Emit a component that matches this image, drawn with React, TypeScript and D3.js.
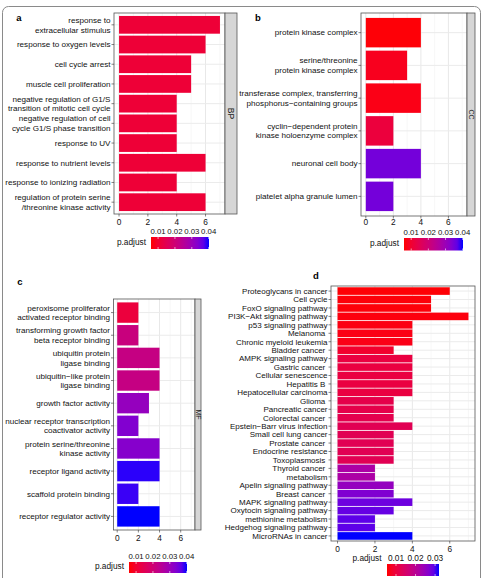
import * as d3 from 'd3';
import { useEffect, useRef } from 'react';

// GO biological process
const bpTerms = [
  'response to\nextracellular stimulus',
  'response to oxygen levels',
  'cell cycle arrest',
  'muscle cell proliferation',
  'negative regulation of G1/S\ntransition of mitotic cell cycle',
  'negative regulation of cell\ncycle G1/S phase transition',
  'response to UV',
  'response to nutrient levels',
  'response to ionizing radiation',
  'regulation of protein serine\n/threonine kinase activity',
];
const bpCounts = [7, 6, 5, 5, 4, 4, 4, 6, 4, 6];
const bpPadj = [0.011, 0.011, 0.011, 0.011, 0.011, 0.011, 0.011, 0.011, 0.011, 0.011];

// GO cellular component
const ccTerms = [
  'protein kinase complex',
  'serine/threonine\nprotein kinase complex',
  'transferase complex, transferring\nphosphorus\u2212containing groups',
  'cyclin\u2212dependent protein\nkinase holoenzyme complex',
  'neuronal cell body',
  'platelet alpha granule lumen',
];
const ccCounts = [4, 3, 4, 2, 4, 2];
const ccPadj = [0.0062, 0.0079, 0.0072, 0.0117, 0.035, 0.035];

// GO molecular function
const mfTerms = [
  'peroxisome proliferator\nactivated receptor binding',
  'transforming growth factor\nbeta receptor binding',
  'ubiquitin protein\nligase binding',
  'ubiquitin\u2212like protein\nligase binding',
  'growth factor activity',
  'nuclear receptor transcription\ncoactivator activity',
  'protein serine/threonine\nkinase activity',
  'receptor ligand activity',
  'scaffold protein binding',
  'receptor regulator activity',
];
const mfCounts = [2, 2, 4, 4, 3, 2, 4, 4, 2, 4];
const mfPadj = [0.0117, 0.0213, 0.022, 0.022, 0.031, 0.0335, 0.033, 0.0395, 0.039, 0.0402];

// KEGG pathways
const keggTerms = [
  'Proteoglycans in cancer',
  'Cell cycle',
  'FoxO signaling pathway',
  'PI3K\u2212Akt signaling pathway',
  'p53 signaling pathway',
  'Melanoma ',
  'Chronic myeloid leukemia',
  'Bladder cancer ',
  'AMPK signaling pathway',
  'Gastric cancer ',
  'Cellular senescence',
  'Hepatitis B ',
  'Hepatocellular carcinoma',
  'Glioma ',
  'Pancreatic cancer',
  'Colorectal cancer ',
  'Epstein\u2212Barr virus infection',
  'Small cell lung cancer',
  'Prostate cancer ',
  'Endocrine resistance',
  'Toxoplasmosis ',
  'Thyroid cancer ',
  'metabolism',
  'Apelin signaling pathway',
  'Breast cancer ',
  'MAPK signaling pathway',
  'Oxytocin signaling pathway',
  'methionine metabolism',
  'Hedgehog signaling pathway',
  'MicroRNAs in cancer',
];
const keggCounts = [6, 5, 5, 7, 4, 4, 4, 3, 4, 4, 4, 4, 4, 3, 3, 3, 4, 3, 3, 3, 3, 2, 2, 3, 3, 4, 3, 2, 2, 4];
const keggPadj = [
  0.0056, 0.0058, 0.0058, 0.006, 0.0062, 0.0064, 0.0065, 0.0085, 0.0105, 0.0105,
  0.0105, 0.0105, 0.0105, 0.0115, 0.0115, 0.0118, 0.0125, 0.0125, 0.0125, 0.0125,
  0.0125, 0.022, 0.022, 0.025, 0.027, 0.0285, 0.029, 0.0295, 0.0295, 0.032,
];

const goTicks = [0.01, 0.02, 0.03, 0.04];
const keggTicks = [0.01, 0.02, 0.03];
const xTicks = [0, 2, 4, 6];
const xMinor = [1, 3, 5, 7];

const FONT = '"Liberation Sans", Arial, Helvetica, sans-serif';

type Panel = {
  tag: string;
  strip?: string;
  terms: string[];
  counts: number[];
  padj: number[];
  x0: number; x1: number; y0: number; y1: number;
  stripW: number;
  fontSize: number;
  lineH: number;
  tickGap: number;
  tagPos: [number, number];
  legend: { mode: 'side' | 'top'; x: number; y: number; w: number; h: number };
};

export default function App() {
  const svgRef = useRef<SVGSVGElement>(null);

  useEffect(() => {
    if (!svgRef.current) return;
    const svg = d3.select(svgRef.current);
    svg.selectAll('*').remove();

    const goColor = d3.scaleLinear<string>().domain([0.0058, 0.0402]).range(['red', 'blue']).interpolate(d3.interpolateLab);
    const keggColor = d3.scaleLinear<string>().domain([0.0054, 0.032]).range(['red', 'blue']).interpolate(d3.interpolateLab);

    const defs = svg.append('defs');
    const addGrad = (id: string, sc: d3.ScaleLinear<string, string>) => {
      const g = defs.append('linearGradient').attr('id', id);
      const [a, b] = sc.domain();
      d3.range(0, 1.0001, 0.1).forEach((t) => {
        g.append('stop').attr('offset', `${t * 100}%`).attr('stop-color', sc(a + (b - a) * t));
      });
    };
    addGrad('goGrad', goColor);
    addGrad('keggGrad', keggColor);

    // outer frame
    svg.append('rect')
      .attr('x', 2.5).attr('y', 6.5).attr('width', 478).attr('height', 590)
      .attr('rx', 6).attr('fill', 'none').attr('stroke', '#8a8a8a').attr('stroke-width', 1);

    const panels: Panel[] = [
      { tag: 'a', strip: 'BP', terms: bpTerms, counts: bpCounts, padj: bpPadj,
        x0: 114, x1: 225, y0: 13, y1: 214, stripW: 12, fontSize: 8.1, lineH: 9.8, tickGap: 8, tagPos: [19, 21],
        legend: { mode: 'side', x: 151, y: 237, w: 58, h: 12 } },
      { tag: 'b', strip: 'CC', terms: ccTerms, counts: ccCounts, padj: ccPadj,
        x0: 361, x1: 467, y0: 13, y1: 216, stripW: 8, fontSize: 8.1, lineH: 9.5, tickGap: 6, tagPos: [258, 21],
        legend: { mode: 'side', x: 404, y: 238, w: 59, h: 12.5 } },
      { tag: 'c', strip: 'MF', terms: mfTerms, counts: mfCounts, padj: mfPadj,
        x0: 113.5, x1: 195, y0: 299, y1: 530, stripW: 6, fontSize: 8.1, lineH: 9.6, tickGap: 8, tagPos: [20, 285],
        legend: { mode: 'side', x: 129, y: 562, w: 58, h: 11 } },
      { tag: 'd', terms: keggTerms, counts: keggCounts, padj: keggPadj,
        x0: 331, x1: 475, y0: 286, y1: 541, stripW: 0, fontSize: 8, lineH: 8.5, tickGap: 8, tagPos: [316, 279],
        legend: { mode: 'top', x: 387, y: 564, w: 52, h: 12 } },
    ];

    panels.forEach((p) => {
      const isKegg = p.tag === 'd';
      const color = isKegg ? keggColor : goColor;
      const g = svg.append('g').attr('font-family', FONT);

      const x = d3.scaleLinear().domain([-0.35, 7.35]).range([p.x0, p.x1]);
      const ids = p.terms.map((_, i) => String(i));
      const y = d3.scalePoint<string>().domain(ids).range([p.y0, p.y1]).padding(0.6);
      const bh = y.step() * 0.9;

      g.append('rect').attr('x', p.x0).attr('y', p.y0)
        .attr('width', p.x1 - p.x0).attr('height', p.y1 - p.y0).attr('fill', '#fff');

      // grid
      g.selectAll('line.minor').data(xMinor).join('line')
        .attr('x1', (d) => x(d)).attr('x2', (d) => x(d)).attr('y1', p.y0).attr('y2', p.y1)
        .attr('stroke', '#f2f2f2').attr('stroke-width', 0.6);
      g.selectAll('line.major').data(xTicks).join('line')
        .attr('x1', (d) => x(d)).attr('x2', (d) => x(d)).attr('y1', p.y0).attr('y2', p.y1)
        .attr('stroke', '#e8e8e8').attr('stroke-width', 1);
      g.selectAll('line.hmajor').data(ids).join('line')
        .attr('x1', p.x0).attr('x2', p.x1).attr('y1', (d) => y(d)!).attr('y2', (d) => y(d)!)
        .attr('stroke', '#ebebeb').attr('stroke-width', 1);

      // bars
      g.selectAll('rect.bar').data(ids).join('rect')
        .attr('x', x(0)).attr('y', (d) => y(d)! - bh / 2)
        .attr('width', (d) => x(p.counts[+d]) - x(0)).attr('height', bh)
        .attr('fill', (d) => color(p.padj[+d]));

      // panel border
      g.append('rect').attr('x', p.x0).attr('y', p.y0)
        .attr('width', p.x1 - p.x0).attr('height', p.y1 - p.y0)
        .attr('fill', 'none').attr('stroke', '#555').attr('stroke-width', 0.8);

      // facet strip
      if (p.strip) {
        g.append('rect').attr('x', p.x1).attr('y', p.y0).attr('width', p.stripW).attr('height', p.y1 - p.y0)
          .attr('fill', '#d6d6d6').attr('stroke', '#555').attr('stroke-width', 0.8);
        const cx = p.x1 + p.stripW / 2;
        const cy = (p.y0 + p.y1) / 2;
        g.append('text').attr('transform', `translate(${cx},${cy}) rotate(90)`)
          .attr('text-anchor', 'middle').attr('dy', '0.35em')
          .attr('font-size', p.stripW >= 10 ? 8.5 : 7).attr('fill', '#1a1a1a').text(p.strip);
      }

      // y axis ticks and labels
      g.selectAll('line.ytick').data(ids).join('line')
        .attr('x1', p.x0 - 2.5).attr('x2', p.x0).attr('y1', (d) => y(d)!).attr('y2', (d) => y(d)!)
        .attr('stroke', '#333').attr('stroke-width', 0.6);
      ids.forEach((d) => {
        const lines = p.terms[+d].split('\n');
        const t = g.append('text').attr('text-anchor', 'end')
          .attr('font-size', p.fontSize).attr('fill', '#111')
          .style('white-space', 'pre');
        lines.forEach((ln, k) => {
          const off = (k - (lines.length - 1) / 2) * p.lineH;
          t.append('tspan').attr('x', p.x0 - 3.5).attr('y', y(d)! + off).attr('dy', '0.35em').text(ln);
        });
      });

      // x axis
      g.selectAll('line.xtick').data(xTicks).join('line')
        .attr('x1', (d) => x(d)).attr('x2', (d) => x(d)).attr('y1', p.y1).attr('y2', p.y1 + 2.5)
        .attr('stroke', '#333').attr('stroke-width', 0.6);
      g.selectAll('text.xlab').data(xTicks).join('text')
        .attr('x', (d) => x(d)).attr('y', p.y1 + p.tickGap).attr('dy', '0.35em')
        .attr('text-anchor', 'middle').attr('font-size', 8.3).attr('fill', '#111')
        .text((d) => d);

      // panel tag
      g.append('text').attr('x', p.tagPos[0]).attr('y', p.tagPos[1])
        .attr('font-size', 9.5).attr('font-weight', 'bold').attr('text-anchor', 'middle').text(p.tag);

      // colour bar legend
      const L = p.legend;
      const ticks = isKegg ? keggTicks : goTicks;
      const lx = d3.scaleLinear().domain(color.domain()).range([L.x, L.x + L.w]);
      g.append('rect').attr('x', L.x).attr('y', L.y).attr('width', L.w).attr('height', L.h)
        .attr('fill', `url(#${isKegg ? 'keggGrad' : 'goGrad'})`);
      ticks.forEach((v) => {
        g.append('line').attr('x1', lx(v)).attr('x2', lx(v)).attr('y1', L.y).attr('y2', L.y + 2)
          .attr('stroke', '#fff').attr('stroke-width', 0.6);
        g.append('line').attr('x1', lx(v)).attr('x2', lx(v)).attr('y1', L.y + L.h - 2).attr('y2', L.y + L.h)
          .attr('stroke', '#fff').attr('stroke-width', 0.6);
      });
      g.selectAll('text.leg').data(ticks).join('text')
        .attr('x', (v) => lx(v)).attr('y', L.y - 5.5).attr('dy', '0.35em')
        .attr('text-anchor', 'middle').attr('font-size', isKegg ? 8.3 : 7.8).attr('fill', '#111')
        .text((v) => d3.format('.2f')(v));
      const titleY = L.mode === 'top' ? L.y - 6 : L.y + L.h / 2 - 1;
      const titleX = L.mode === 'top' ? 367 : L.x - 5;
      g.append('text').attr('x', titleX).attr('y', titleY).attr('dy', '0.35em')
        .attr('text-anchor', L.mode === 'top' ? 'middle' : 'end')
        .attr('font-size', 8.3).attr('fill', '#111').text('p.adjust');
    });
  }, []);

  return (
    <svg
      ref={svgRef}
      width={483}
      height={578}
      style={{ position: 'absolute', left: 0, top: 0, background: '#fff' }}
    />
  );
}
